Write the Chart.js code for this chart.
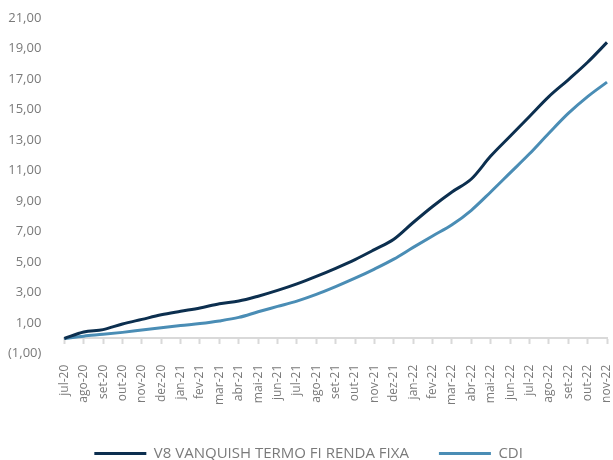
<!DOCTYPE html>
<html>
<head>
<meta charset="utf-8">
<script src="https://cdn.jsdelivr.net/npm/chart.js@4.4.0/dist/chart.umd.min.js"></script>
<style>
  html, body { margin: 0; padding: 0; background: #fff; }
  #wrap { width: 613px; height: 460px; }
</style>
</head>
<body>
<div id="wrap"><canvas id="myChart"></canvas></div>
<script>
const meses = ['jul-20', 'ago-20', 'set-20', 'out-20', 'nov-20', 'dez-20',
  'jan-21', 'fev-21', 'mar-21', 'abr-21', 'mai-21', 'jun-21', 'jul-21', 'ago-21',
  'set-21', 'out-21', 'nov-21', 'dez-21', 'jan-22', 'fev-22', 'mar-22', 'abr-22',
  'mai-22', 'jun-22', 'jul-22', 'ago-22', 'set-22', 'out-22', 'nov-22'];

// rentabilidade acumulada (%)
const fundo = [0, 0.42, 0.58, 0.95, 1.25, 1.55, 1.78, 2.0, 2.28, 2.45, 2.77, 3.15,
  3.58, 4.07, 4.6, 5.17, 5.82, 6.5, 7.6, 8.65, 9.6, 10.45, 11.95, 13.25, 14.55,
  15.85, 16.95, 18.1, 19.4];
const cdi = [0, 0.15, 0.27, 0.4, 0.55, 0.7, 0.85, 0.98, 1.15, 1.38, 1.75, 2.1,
  2.45, 2.89, 3.4, 3.95, 4.55, 5.2, 5.97, 6.72, 7.45, 8.4, 9.6, 10.85, 12.1,
  13.45, 14.75, 15.85, 16.8];

const nomes = ['V8 VANQUISH TERMO FI RENDA FIXA', 'CDI'];
const cores = ['#0c2f4f', '#4a8db5'];

const cinza = '#7a7a7a';
const fonte = "'Open Sans', sans-serif";

const formata = (v) => {
  const s = Math.abs(v).toFixed(2).replace('.', ',');
  return v < 0 ? '(' + s + ')' : s;
};

// os rotulos nao devem empurrar a area do grafico
const semPadding = (scale) => {
  scale.paddingLeft = 0;
  scale.paddingRight = 0;
  scale.paddingTop = 0;
  scale.paddingBottom = 0;
};

const ctx = document.getElementById('myChart');

new Chart(ctx, {
  type: 'line',
  data: {
    labels: meses,
    datasets: [{
      label: nomes[0],
      data: fundo,
      borderColor: cores[0],
      backgroundColor: cores[0],
      borderWidth: 3,
      pointRadius: 0,
      cubicInterpolationMode: 'monotone'
    }, {
      label: nomes[1],
      data: cdi,
      borderColor: cores[1],
      backgroundColor: cores[1],
      borderWidth: 3,
      pointRadius: 0,
      cubicInterpolationMode: 'monotone'
    }]
  },
  options: {
    responsive: true,
    maintainAspectRatio: false,
    animation: false,
    layout: {
      padding: { left: -15, right: 6, top: 18, bottom: -11 }
    },
    scales: {
      x: {
        grid: { display: false, drawTicks: false },
        border: { display: false },
        afterFit: semPadding,
        ticks: {
          autoSkip: false,
          minRotation: 90,
          maxRotation: 90,
          padding: 11,
          color: cinza,
          font: { family: fonte, size: 12 }
        }
      },
      // linha do zero com as marcas dos meses
      x2: {
        type: 'category',
        position: { y: 0 },
        afterFit: semPadding,
        grid: {
          drawOnChartArea: false,
          drawTicks: true,
          tickLength: 5,
          tickWidth: 2,
          tickColor: '#d9d9d9'
        },
        border: { display: true, color: '#d9d9d9', width: 2 },
        ticks: { display: false }
      },
      y: {
        min: -1,
        max: 21,
        grid: { display: false, drawTicks: false },
        border: { display: false },
        afterFit: semPadding,
        ticks: {
          stepSize: 2,
          padding: 23,
          color: cinza,
          font: { family: fonte, size: 13 },
          callback: (v) => formata(v)
        }
      }
    },
    plugins: {
      tooltip: { enabled: false },
      legend: {
        position: 'bottom',
        fullSize: false,
        align: 'start',
        labels: {
          boxWidth: 52,
          boxHeight: 3,
          padding: 30,
          color: cinza,
          font: { family: fonte, size: 15 },
          generateLabels: (chart) => Chart.defaults.plugins.legend.labels.generateLabels(chart)
            .map((item) => ({ ...item, lineWidth: 0 }))
        }
      }
    }
  }
});
</script>
</body>
</html>
